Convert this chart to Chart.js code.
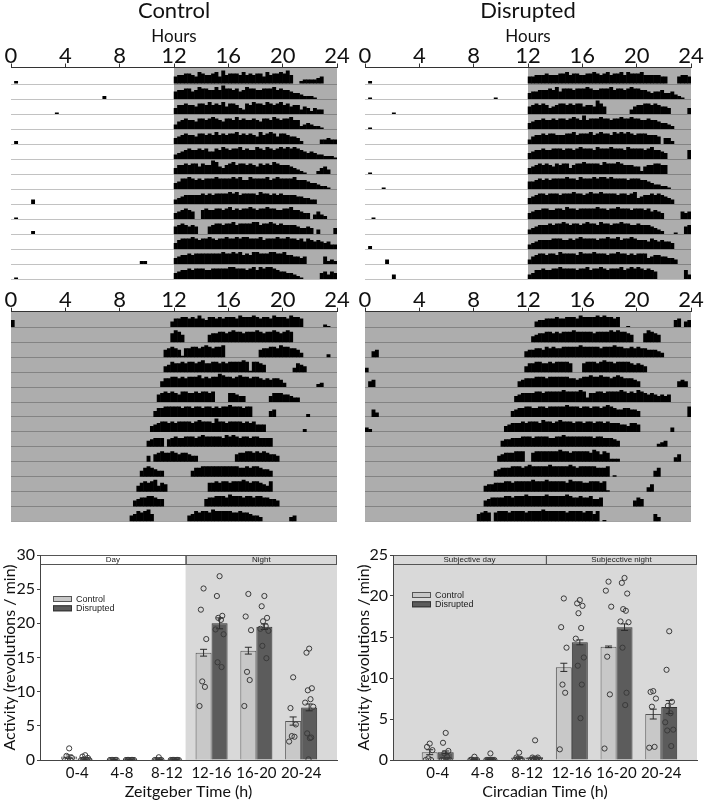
<!DOCTYPE html>
<html>
<head>
<meta charset="utf-8">
<script src="https://cdn.jsdelivr.net/npm/chart.js@4.4.1/dist/chart.umd.min.js"></script>
<style>
  body { margin: 0; background: #fff; width: 708px; height: 802px; position: relative; overflow: hidden; }
  canvas { position: absolute; }
</style>
</head>
<body>
<canvas id="ctlLD" width="354" height="282" style="left:0;top:0"></canvas>
<canvas id="disLD" width="354" height="282" style="left:354px;top:0"></canvas>
<canvas id="ctlDD" width="354" height="245" style="left:0;top:280px"></canvas>
<canvas id="disDD" width="354" height="245" style="left:354px;top:280px"></canvas>
<canvas id="ztBars" width="354" height="262" style="left:0;top:540px"></canvas>
<canvas id="ctBars" width="354" height="262" style="left:354px;top:540px"></canvas>
<script>
// actogram rows: [start hour, activity per 15-min bin (0-9), grouped by hour]
const ctlLDRows = [
  [[0.25,"2"], [12,"5667 7658 7667 8596 7776 8676 7758 6778 796"], [21.25,"2333 345"]],
  [[6.75,"2"], [12,"5667 7568 7766 8697 7675 6877 6677 7867 6654"], [21,"4322 21"]],
  [[3.25,"1"], [12,"4667 6657 7686 7685 7764 3768 7768 7678 6756 6"], [21.25,"3542 433"]],
  [[12,"3567 6657 7678 7657 7686 7667 6577 6876 7786 6"], [21.25,"2343 221"]],
  [[0.25,"2"], [12,"4567 6657 7676 8676 7786 7676 5867 8757 7655"], [21,"42"], [22.75,"3343 3"]],
  [[12,"3456 7667 6755 7687 6778 6766 8768 7678 7878 7654"], [22,"5433 2221"]],
  [[12,"4667 6775 7669 8546 7867 7676 5767 6876 66"], [20.5,"5432"], [21.5,"1"], [22.5,"2453"]],
  [[12,"4577 8767 6777 8777 7878 6687 7778 6787 7778 66"], [21.5,"6544 3221"]],
  [[1.5,"3"], [12,"3456 6666 7676 7777 8786 7777 6877 6767 66"], [20.5,"6655 4433"]],
  [[0.25,"1"], [12,"4567 65"], [14,"6766 7767 8676 7787 6778 7766 7786"], [21,"6544"], [22.25,"3532"]],
  [[1.5,"2"], [12,"5676 565"], [14.5,"5677 6778 6777 7886 7787 6766 6"], [20.75,"6544 54"], [22.5,"3"], [23.75,"4"]],
  [[12,"4677 7876 7787 6778 7787 8877 7867 7787 7877 6757 6565"], [23,"4533"]],
  [[9.5,"22"], [12,"4566 7677 7777 7787 7878 6768 8777 8877 8"], [20.25,"6655 45"], [23,"5232"]],
  [[0.25,"1"], [12,"4566 7677 7667 7777 8877 7678 6878 8765 54"], [20.5,"4321"], [22.75,"4535 4"]]
];
const disLDRows = [
  [[0.25,"2"], [12,"5566 6766 6778 6776 6778 7678 6778 6877 7866 6"], [21.25,"6655"], [23,"5665"]],
  [[0.25,"1"], [9.5,"1"], [12,"4556 6676 8577 7677 7876 6777 8677 6787 7665 4"], [21.25,"5564 4532"], [23.25,"1"]],
  [[2,"1"], [12,"5676 7645 6776 7677 5665 975"], [19.5,"3566 7767 6554"], [23.75,"4"]],
  [[0.25,"1"], [12,"4566 7667 6776 7876 9677 7877 6778 7787 766"], [20.75,"7665 4432"]],
  [[12,"3566 7677 6667 7867 7786 7877 6878 7876 77"], [20.5,"7666 5"], [22,"442"]],
  [[12,"4566 7667 7767 7678 7776 8777 8777 6877 7767 8"], [21.25,"6654"], [23.75,"6"]],
  [[0.25,"1"], [12,"4567 6765 7677"], [15,"4"], [15.25,"6778 7777 6877 7876 6"], [19.5,"655"], [20.25,"2"], [20.5,"5667 766"]],
  [[1.25,"1"], [12,"5567 6767 7778 7768 7778 7887 8777 7677 766"], [20.75,"5433 22"], [22.25,"1"]],
  [[12,"4567 7677 7677 7877 6787 7877 7767 7678"], [20,"4"], [20.25,"5667 67"], [21.75,"6543"]],
  [[0.5,"1"], [12,"4566 7766 7768 7767 7777 8776 7787 7767 7767 5"], [21.25,"654"], [23.25,"5453"]],
  [[12,"3456 6676 7787 6776 7877 6877 6778 7766 766"], [20.75,"6543 2"], [22.75,"1"], [23.5,"56"]],
  [[0.25,"2"], [12,"3456 6667 7766 7678 7777 6778 7786 7787 66"], [20.5,"6576 5655 4"]],
  [[1.5,"3"], [12,"3567 7677 6877 7768 7778 7776 7787 7676 777"], [20.75,"4566 5544 3"]],
  [[2,"3"], [12,"3466 7667 7877 7767 7867 7876 7778 6787 876"], [20.75,"765"], [23.5,"63"]]
];
const ctlDDRows = [
  [[0,"5"], [11.75,"4667 7676 8657 7676 7776 8777 8767 7687 7768 776"], [23,"21"]],
  [[11.75,"6875"], [14.5,"5667 7678 7767 7787 6778 7678 7"]],
  [[11.25,"5676 5"], [12.5,"1"], [12.75,"6677 6787 6778"], [18.25,"5667 7687 7665 3"], [23.25,"2"]],
  [[11.25,"4576 6767 7678 6677 6767 7778 7"], [17.5,"1"], [17.75,"7765"], [20.75,"3654"]],
  [[11,"4667 7676 7778 6767 7987 7678 7767 7656 5"], [19.25,"6653"], [22.5,"23"]],
  [[10.75,"5676 7657 7667 6776 7"], [16,"6654 4"], [19,"4666 5543 3"]],
  [[10.5,"4667 7777 6776 7767 7676 7787 7767 7"], [19,"45"], [21.75,"2"]],
  [[10.25,"4567 7676 7777 6787 7769 7767 7776 7675 5"], [18.5,"5"], [21.5,"2"]],
  [[10,"4566 6"], [11.5,"5676 6777 6787 7777 6878 7677 6776 6"], [18.75,"66"]],
  [[10,"4"], [10.5,"5676 6765 6654 4"], [16.5,"5667 7676 7655 4"]],
  [[9.5,"4676 544"], [13.25,"4667 7777 7777 776"], [17,"6767 7655 4"]],
  [[9.25,"4676 78"], [10.75,"4"], [11,"65"], [14.5,"6676 7767 7787 6776 54"], [19,"7"]],
  [[9,"4566 7765 5"], [14.25,"5667 7768 7776 7767 7665 54"]],
  [[8.75,"4576 78"], [10.25,"5"], [13,"4576 7768 7777 7667 6654 43"], [20.5,"34"]]
];
const disDDRows = [
  [[12.5,"4556 6676 6777 6877 7787 8776 7"], [19.25,"1"], [22.75,"56"], [23.5,"45"]],
  [[12.25,"4566 7767 6777 8777 7767 7778 7877 65"], [20.5,"6876 5"]],
  [[0.5,"45"], [11.75,"4556 6576 7667 7777 8777 7767 7787 7667 6766 5"], [21,"5543"]],
  [[0,"3"], [11.75,"4667 7667 6777 76"], [16,"6777 6787 7677 7765 6"], [20.25,"54"]],
  [[0.25,"45"], [11.25,"4566 6777 6777 7776 6"], [15.5,"5"], [15.75,"6778 7787 7678 766"], [19.5,"654"], [23,"454"]],
  [[11,"4566 6677 6777 7787 7778 7"], [16.25,"3"], [16.5,"6677 6777 7876 7687 6565 4"], [21.75,"545"]],
  [[0.5,"53"], [10.75,"4566 7766 7767 7777 8777 6776 7767 8765 5"], [19,"6655 4"], [23.75,"7"]],
  [[0,"32"], [10.25,"4566 6767 7768 7767 8777 6776 7767 7676 6655 4"], [19.5,"665"], [22.5,"3"]],
  [[10,"4556 6677 7677 7766 7787 7777 7776 7766 6"], [18.25,"54"], [21.5,"234"]],
  [[9.75,"4566 6777"], [12.25,"6777 7777 8776 7777 7687 5"], [17.5,"7"], [17.75,"62"], [18.25,"22"], [22.75,"35"]],
  [[9.5,"4566 6777 6787 7777 8777 7787 6777 7766 6"], [17.75,"7"], [18.25,"1"], [21.25,"46"]],
  [[8.75,"4556 6677 6777 7787 7787 7777 6877 7667 776"], [17.5,"71"], [20.75,"35"]],
  [[8.75,"4566 6677 6777 8777 7787 7777 8766 7"], [16,"6675"], [17,"56"], [19.75,"465"]],
  [[8.25,"5676"], [9.5,"6777 6777 7677 7787 7777 7677 7767 75"], [17,"7"], [17.5,"1"], [21.25,"53"]]
];
const hourTicks = [0, 4, 8, 12, 16, 20, 24];

// activity summary (revolutions / min)
const timeBins = ['0-4', '4-8', '8-12', '12-16', '16-20', '20-24'];
const ztControlMean = [0.5, 0.05, 0.1, 15.7, 16.0, 5.7];
const ztControlSem = [0.25, 0.03, 0.05, 0.5, 0.5, 0.6];
const ztDisruptedMean = [0.2, 0.05, 0.05, 20.0, 19.5, 7.7];
const ztDisruptedSem = [0.1, 0.03, 0.03, 0.8, 0.4, 0.5];
const ztControlPts = [
  [1.7, 0.6, 0.3, 0.1, 0, 0], [0, 0, 0, 0, 0, 0], [0.4, 0, 0, 0, 0, 0],
  [25.1, 22.0, 17.7, 11.5, 10.7, 7.9], [24.3, 21.0, 19.0, 12.9, 11.7, 7.9], [12.1, 7.6, 5.2, 3.5, 3.4, 2.7]
];
const ztDisruptedPts = [
  [0.7, 0.5, 0.3, 0.1, 0, 0, 0, 0, 0], [0, 0, 0, 0, 0, 0, 0, 0, 0], [0, 0, 0, 0, 0, 0, 0, 0, 0],
  [26.9, 24.0, 21.1, 20.8, 20.5, 19.1, 18.4, 14.3, 13.6],
  [24.0, 22.5, 20.8, 20.3, 19.6, 19.2, 18.9, 16.7, 14.9],
  [16.3, 15.7, 10.5, 10.2, 8.9, 8.4, 7.8, 3.9, 3.3, 3.2, 0.1]
];
const ctControlMean = [0.95, 0.1, 0.3, 11.3, 13.8, 5.6];
const ctControlSem = [0.3, 0.05, 0.1, 0.5, 0.1, 0.6];
const ctDisruptedMean = [0.95, 0.1, 0.35, 14.35, 16.2, 6.45];
const ctDisruptedSem = [0.15, 0.05, 0.1, 0.3, 0.4, 0.8];
const ctControlPts = [
  [2.0, 1.6, 1.2, 0.2, 0, 0], [0.4, 0.05, 0, 0, 0, 0], [0.9, 0.3, 0, 0, 0, 0],
  [19.7, 16.2, 13.7, 9.2, 8.2, 1.3], [21.75, 20.65, 18.7, 12.6, 8.0, 1.4], [8.4, 8.3, 7.5, 6.5, 1.6, 1.5]
];
const ctDisruptedPts = [
  [3.3, 2.1, 1.1, 0.8, 0.4, 0, 0, 0, 0, 0], [0.8, 0, 0, 0, 0, 0, 0, 0, 0, 0], [2.4, 0.3, 0.3, 0, 0, 0, 0, 0, 0, 0],
  [19.5, 19.1, 18.8, 17.9, 16.1, 14.8, 12.5, 11.5, 9.2, 5.1],
  [22.2, 21.6, 20.3, 18.4, 18.2, 16.9, 16.8, 13.7, 8.2, 6.7],
  [15.7, 11.0, 7.1, 6.6, 5.7, 4.6, 3.7, 3.6, 1.7]
];

Chart.defaults.animation = false;
Chart.defaults.font.family = 'Lato';
Chart.defaults.color = '#111';

const BIN = 0.25;

function rowsToBins(rows) {
  const pts = [];
  rows.forEach((segs, r) => {
    segs.forEach(([start, digits]) => {
      digits.replace(/\s/g, '').split('').forEach((d, k) => {
        const h = +d;
        if (h > 0) pts.push({ x: start + BIN * k + BIN / 2, y: [r - h / 10, r] });
      });
    });
  });
  return pts;
}

const actoBackground = {
  id: 'actoBackground',
  beforeDraw(chart, args, opts) {
    const { ctx, chartArea: a, scales: { x } } = chart;
    const x0 = x.getPixelForValue(opts.darkFrom);
    ctx.save();
    ctx.fillStyle = '#fff';
    ctx.fillRect(a.left, a.top, a.right - a.left, a.bottom - a.top);
    ctx.fillStyle = '#adadad';
    ctx.fillRect(x0, a.top, a.right - x0, a.bottom - a.top);
    ctx.restore();
  }
};

function actogram(id, rows, title, darkFrom) {
  const withTitle = !!title;
  new Chart(document.getElementById(id), {
    type: 'bar',
    data: {
      datasets: [{
        data: rowsToBins(rows),
        backgroundColor: '#000',
        borderWidth: 0,
        categoryPercentage: 1,
        barPercentage: 1.15
      }]
    },
    options: {
      responsive: false,
      layout: { padding: { left: 11, right: 17, top: 0, bottom: withTitle ? 3 : 3.5 } },
      plugins: {
        legend: { display: false },
        tooltip: { enabled: false },
        title: {
          display: withTitle, text: title, padding: 0,
          font: { size: 22, weight: 'normal', lineHeight: 1 }, color: '#111'
        },
        actoBackground: { darkFrom }
      },
      scales: {
        x: {
          type: 'linear', position: 'top', min: 0, max: 24, offset: false,
          afterBuildTicks: s => { s.ticks = hourTicks.map(v => ({ value: v })); },
          ticks: { font: { size: 22, lineHeight: 1 }, padding: -3, color: '#111' },
          grid: { offset: false, drawOnChartArea: false, drawTicks: true, tickLength: 4, color: '#333' },
          border: { display: true, color: '#333' },
          title: { display: withTitle, text: 'Hours', font: { size: 17, lineHeight: 1 }, padding: { top: 6.5, bottom: 0 }, color: '#111' },
          afterFit: s => { s.height = withTitle ? 45.5 : 31.7; }
        },
        y: {
          type: 'linear', reverse: true, min: withTitle ? -1.1 : -1.05, max: rows.length - 1,
          afterBuildTicks: s => { s.ticks = rows.map((_, r) => ({ value: r })); },
          ticks: { display: false },
          grid: { color: 'rgba(0,0,0,0.24)', drawTicks: false, lineWidth: 1 },
          border: { display: false },
          afterFit: s => { s.width = 0; }
        }
      }
    },
    plugins: [actoBackground]
  });
}

actogram('ctlLD', ctlLDRows, 'Control', 12);
actogram('disLD', disLDRows, 'Disrupted', 12);
actogram('ctlDD', ctlDDRows, '', 0);
actogram('disDD', disDDRows, '', 0);

// ---------- bar charts ----------
const barBackground = {
  id: 'barBackground',
  beforeDraw(chart, args, o) {
    const { ctx, chartArea: a, scales: { x } } = chart;
    const split = x.getPixelForValue(o.split);
    const bandB = a.top + 9;
    ctx.save();
    ctx.fillStyle = '#d9d9d9';
    const shadeFrom = o.shadeAll ? a.left : split;
    ctx.fillRect(shadeFrom, bandB, a.right - shadeFrom, a.bottom - bandB);
    // header bands
    ctx.fillStyle = o.shadeAll ? '#d9d9d9' : '#fff';
    ctx.fillRect(a.left, a.top, split - a.left, 9);
    ctx.fillStyle = '#d9d9d9';
    ctx.fillRect(split, a.top, a.right - split, 9);
    ctx.strokeStyle = '#555';
    ctx.lineWidth = 1;
    ctx.strokeRect(a.left + 0.5, a.top + 0.5, split - a.left, 9);
    ctx.strokeRect(split + 0.5, a.top + 0.5, a.right - split - 1, 9);
    ctx.fillStyle = '#222';
    ctx.font = '8px "Liberation Sans"';
    ctx.textAlign = 'center';
    ctx.textBaseline = 'middle';
    ctx.fillText(o.labels[0], (a.left + split) / 2, a.top + 5);
    ctx.fillText(o.labels[1], (split + a.right) / 2, a.top + 5);
    ctx.restore();
  },
  afterDraw(chart, args, o) {
    const { ctx, chartArea: a } = chart;
    const lx = a.left + o.legend[0], ly = a.top + o.legend[1];
    const items = [['Control', '#c8c8c8', '#555'], ['Disrupted', '#5c5c5c', '#333']];
    ctx.save();
    ctx.font = '9px "Liberation Sans"';
    ctx.textBaseline = 'middle';
    items.forEach(([t, fill, line], k) => {
      const y = ly + k * 9.3;
      ctx.fillStyle = fill;
      ctx.fillRect(lx, y, 19, 6);
      ctx.strokeStyle = line;
      ctx.strokeRect(lx + 0.5, y + 0.5, 18, 5);
      ctx.fillStyle = '#222';
      ctx.fillText(t, lx + 23, y + 3.5);
    });
    ctx.restore();
  }
};

const errorBars = {
  id: 'errorBars',
  afterDatasetDraw(chart, args) {
    const ds = chart.data.datasets[args.index];
    if (!ds.sem) return;
    const y = chart.scales.y, ctx = chart.ctx;
    ctx.save();
    ctx.strokeStyle = '#2b2b2b';
    ctx.lineWidth = 1;
    args.meta.data.forEach((bar, i) => {
      const v = ds.data[i].y, e = ds.sem[i];
      const t = y.getPixelForValue(v + e), b = y.getPixelForValue(Math.max(0, v - e));
      ctx.beginPath();
      ctx.moveTo(bar.x, t); ctx.lineTo(bar.x, b);
      ctx.moveTo(bar.x - 3.5, t); ctx.lineTo(bar.x + 3.5, t);
      ctx.moveTo(bar.x - 3.5, b); ctx.lineTo(bar.x + 3.5, b);
      ctx.stroke();
    });
    ctx.restore();
  }
};

const GROUP = 0.715;
const jitter = [0, -0.06, 0.06, -0.03, 0.03, -0.09, 0.09, -0.045, 0.045, 0.015, -0.015];

function dots(pts, side) {
  const out = [];
  pts.forEach((vals, i) => vals.forEach((v, j) => {
    out.push({ x: i + side * GROUP / 4 + jitter[j % jitter.length], y: v });
  }));
  return out;
}

function activityChart(id, cfg) {
  const dotStyle = { type: 'scatter', pointRadius: 2.6, pointBorderWidth: 1, borderColor: '#3a3a3a', backgroundColor: 'rgba(0,0,0,0)', order: 1 };
  new Chart(document.getElementById(id), {
    type: 'bar',
    data: {
      datasets: [
        { ...dotStyle, data: dots(cfg.ctlPts, -1) },
        { ...dotStyle, data: dots(cfg.disPts, 1) },
        { label: 'Control', data: cfg.ctlMean.map((v, i) => ({ x: i, y: v })), sem: cfg.ctlSem,
          backgroundColor: '#c8c8c8', borderColor: '#555', borderWidth: 1, order: 2,
          categoryPercentage: GROUP, barPercentage: 1 },
        { label: 'Disrupted', data: cfg.disMean.map((v, i) => ({ x: i, y: v })), sem: cfg.disSem,
          backgroundColor: '#5c5c5c', borderColor: '#333', borderWidth: 1, order: 2,
          categoryPercentage: GROUP, barPercentage: 1 }
      ]
    },
    options: {
      responsive: false,
      layout: { padding: { left: 0, right: cfg.padRight, top: 15, bottom: 0 } },
      plugins: {
        legend: { display: false },
        tooltip: { enabled: false },
        barBackground: { split: 2.42, shadeAll: cfg.shadeAll, labels: cfg.bands, legend: cfg.legend }
      },
      scales: {
        x: {
          type: 'linear', min: cfg.xMin, max: 5.8, offset: false,
          afterBuildTicks: s => { s.ticks = timeBins.map((_, i) => ({ value: i })); },
          ticks: { callback: v => timeBins[v], font: { size: 15 }, padding: 4, color: '#111' },
          grid: { offset: false, drawOnChartArea: false, drawTicks: false },
          border: { display: true, color: '#444' },
          title: { display: true, text: cfg.xTitle, font: { size: 16 }, padding: { top: 0, bottom: 1 }, color: '#111' },
          afterFit: s => { s.height = 42; }
        },
        y: {
          min: 0, max: cfg.yMax,
          ticks: { stepSize: 5, font: { size: 16 }, padding: 2, color: '#111' },
          grid: { drawOnChartArea: false, drawTicks: true, tickLength: 3, color: '#444' },
          border: { display: true, color: '#444' },
          title: { display: true, text: 'Activity (revolutions / min)', font: { size: 16 }, padding: 0, color: '#111' },
          afterFit: s => { s.width = cfg.axisW; }
        }
      }
    },
    plugins: [barBackground, errorBars]
  });
}

activityChart('ztBars', {
  ctlMean: ztControlMean, ctlSem: ztControlSem, disMean: ztDisruptedMean, disSem: ztDisruptedSem,
  ctlPts: ztControlPts, disPts: ztDisruptedPts, yMax: 30, xMin: -0.83, axisW: 40, padRight: 17,
  shadeAll: false, bands: ['Day', 'Night'], legend: [13, 41], xTitle: 'Zeitgeber Time (h)'
});
activityChart('ctBars', {
  ctlMean: ctControlMean, ctlSem: ctControlSem, disMean: ctDisruptedMean, disSem: ctDisruptedSem,
  ctlPts: ctControlPts, disPts: ctDisruptedPts, yMax: 25, xMin: -1.0, axisW: 39, padRight: 11,
  shadeAll: true, bands: ['Subjective day', 'Subjecctive night'], legend: [19, 37], xTitle: 'Circadian Time (h)'
});
</script>
</body>
</html>
